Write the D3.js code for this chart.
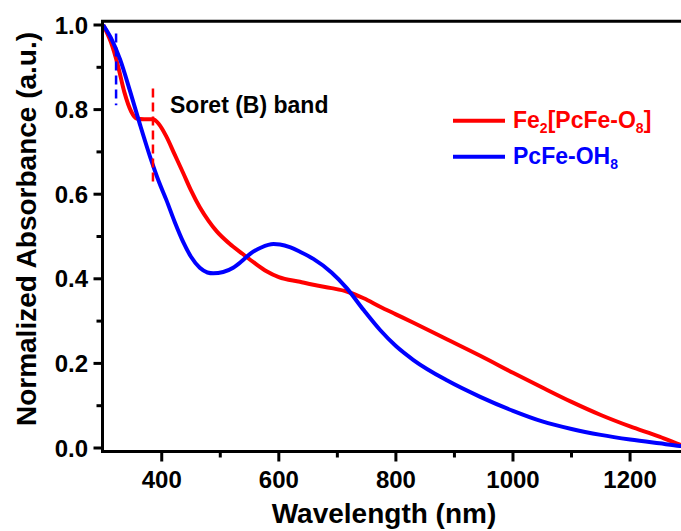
<!DOCTYPE html>
<html lang="en">
<head>
  <meta charset="UTF-8">
  <title>Normalized Absorbance</title>
  <style>
    body { margin: 0; background: #fff; }
    svg { display: block; font-family: "Liberation Sans", Arial, sans-serif; font-weight: bold; }
  </style>
</head>
<body>
  <div id="chart"></div>
  <script src="https://d3js.org/d3.v7.min.js"></script>
  <script>
    // wavelength (nm) / normalized absorbance
    var redWave = [300, 313, 325, 336, 348, 357, 370, 385, 395, 408, 422, 437, 450, 465, 480, 494, 515, 539, 560, 579,
      600, 636, 659, 690, 716, 745, 773, 800, 830, 887, 944, 1000, 1050, 1100, 1150, 1200, 1250, 1285, 1300]
    var redAbs = [1.0, 0.96, 0.905, 0.842, 0.795, 0.779, 0.777, 0.777, 0.766, 0.736, 0.694, 0.649, 0.609, 0.569, 0.537, 0.512, 0.484, 0.458, 0.436, 0.418,
      0.404, 0.393, 0.386, 0.378, 0.37, 0.354, 0.334, 0.316, 0.296, 0.257, 0.218, 0.178, 0.143, 0.109, 0.078, 0.051, 0.027, 0.008, 0.0]
    var blueWave = [300, 313, 329, 346, 363, 380, 395, 408, 422, 437, 450, 465, 478, 488, 505, 522, 537, 551, 570,
      591, 602, 620, 636, 659, 690, 716, 745, 773, 800, 830, 887, 944, 1000, 1050, 1100, 1150, 1200, 1250, 1285, 1300]
    var blueAbs = [1.0, 0.97, 0.918, 0.843, 0.764, 0.689, 0.63, 0.586, 0.535, 0.486, 0.452, 0.426, 0.415, 0.413, 0.416, 0.426, 0.442, 0.459, 0.474,
      0.482, 0.481, 0.474, 0.464, 0.447, 0.415, 0.378, 0.326, 0.279, 0.241, 0.208, 0.16, 0.121, 0.088, 0.063, 0.045, 0.031, 0.02, 0.011, 0.005, 0.004]

    // Soret band markers: wavelength, from, to
    var markWave = [322, 385]
    var markFrom = [0.81, 0.62]
    var markTo = [0.98, 0.85]

    var xTicks = [400, 600, 800, 1000, 1200]
    var xMinor = [500, 700, 900, 1100]
    var yTicks = [0.0, 0.2, 0.4, 0.6, 0.8, 1.0]
    var yMinor = [0.1, 0.3, 0.5, 0.7, 0.9]

    var width = 681
    var height = 531
    var colors = ['#ff0000', '#0000ff']

    var svg = d3.select('#chart').append('svg')
      .attr('width', width)
      .attr('height', height)

    var x = d3.scaleLinear().domain([300, 1300]).range([103.2, 688.6])
    var y = d3.scaleLinear().domain([0, 1]).range([448, 25])

    var frameL = 102.5, frameR = 688.6
    var frameT = y(1.009), frameB = 451.5

    // curves
    var series = [d3.zip(redWave, redAbs), d3.zip(blueWave, blueAbs)]
    var line = d3.line()
      .x(function (d) { return x(d[0]) })
      .y(function (d) { return y(d[1]) })
      .curve(d3.curveMonotoneX)

    svg.selectAll('.curve')
      .data(series)
      .enter()
      .append('path')
      .attr('class', 'curve')
      .attr('fill', 'none')
      .attr('stroke', function (d, i) { return colors[i] })
      .attr('stroke-width', 4)
      .attr('stroke-linejoin', 'round')
      .attr('d', line)

    // dashed Soret markers (blue one first wavelength, red second)
    svg.selectAll('.mark')
      .data(markWave)
      .enter()
      .append('line')
      .attr('class', 'mark')
      .attr('x1', function (d) { return x(d) })
      .attr('x2', function (d) { return x(d) })
      .attr('y1', function (d, i) { return y(markTo[i]) })
      .attr('y2', function (d, i) { return y(markFrom[i]) })
      .attr('stroke', function (d, i) { return colors[1 - i] })
      .attr('stroke-width', 2.5)
      .attr('stroke-dasharray', '9,5')

    // frame
    svg.append('path')
      .attr('d', 'M' + frameL + ',' + frameB + 'V' + frameT + 'H' + frameR + 'V' + frameB + 'Z')
      .attr('fill', 'none')
      .attr('stroke', '#000')
      .attr('stroke-width', 3)

    // tick marks
    var xt = xTicks.map(function (d) { return [d, 10] }).concat(xMinor.map(function (d) { return [d, 6] }))
    var yt = yTicks.map(function (d) { return [d, 9] }).concat(yMinor.map(function (d) { return [d, 6] }))
    svg.selectAll('.xtick')
      .data(xt)
      .enter()
      .append('line')
      .attr('class', 'xtick')
      .attr('x1', function (d) { return x(d[0]) })
      .attr('x2', function (d) { return x(d[0]) })
      .attr('y1', frameB)
      .attr('y2', function (d) { return frameB + d[1] })
      .attr('stroke', '#000')
      .attr('stroke-width', 3)
    svg.selectAll('.ytick')
      .data(yt)
      .enter()
      .append('line')
      .attr('class', 'ytick')
      .attr('y1', function (d) { return y(d[0]) })
      .attr('y2', function (d) { return y(d[0]) })
      .attr('x1', frameL)
      .attr('x2', function (d) { return frameL - d[1] })
      .attr('stroke', '#000')
      .attr('stroke-width', 3)

    // tick labels
    svg.selectAll('.xlab')
      .data(xTicks)
      .enter()
      .append('text')
      .attr('class', 'xlab')
      .attr('x', function (d) { return x(d) })
      .attr('y', 488)
      .attr('text-anchor', 'middle')
      .attr('font-size', 24)
      .text(d3.format('d'))
    svg.selectAll('.ylab')
      .data(yTicks)
      .enter()
      .append('text')
      .attr('class', 'ylab')
      .attr('x', 88)
      .attr('y', function (d) { return y(d) + 8.5 })
      .attr('text-anchor', 'end')
      .attr('font-size', 24)
      .text(d3.format('.1f'))

    svg.append('text')
      .attr('x', 170)
      .attr('y', 112.5)
      .attr('font-size', 23)
      .text('Soret (B) band')

    // legend
    var legend = svg.append('g')
    legend.selectAll('line')
      .data(colors)
      .enter()
      .append('line')
      .attr('x1', 453).attr('x2', 505)
      .attr('y1', function (d, i) { return 120.7 + i * 36 })
      .attr('y2', function (d, i) { return 120.7 + i * 36 })
      .attr('stroke', function (d) { return d })
      .attr('stroke-width', 4)

    var t1 = legend.append('text').attr('x', 513).attr('y', 127.5).attr('font-size', 23).attr('fill', colors[0])
    t1.append('tspan').text('Fe')
    t1.append('tspan').attr('font-size', 14).attr('dy', 5).text('2')
    t1.append('tspan').attr('dy', -5).text('[PcFe-O')
    t1.append('tspan').attr('font-size', 14).attr('dy', 5).text('8')
    t1.append('tspan').attr('dy', -5).text(']')

    var t2 = legend.append('text').attr('x', 513).attr('y', 163.5).attr('font-size', 23).attr('fill', colors[1])
    t2.append('tspan').text('PcFe-OH')
    t2.append('tspan').attr('font-size', 14).attr('dy', 5).text('8')

    // axis titles
    svg.append('text')
      .attr('x', 384)
      .attr('y', 523)
      .attr('text-anchor', 'middle')
      .attr('font-size', 28)
      .text('Wavelength (nm)')
    svg.append('text')
      .attr('transform', 'translate(36,229) rotate(-90)')
      .attr('text-anchor', 'middle')
      .attr('font-size', 28)
      .text('Normalized Absorbance (a.u.)')
  </script>
</body>
</html>
